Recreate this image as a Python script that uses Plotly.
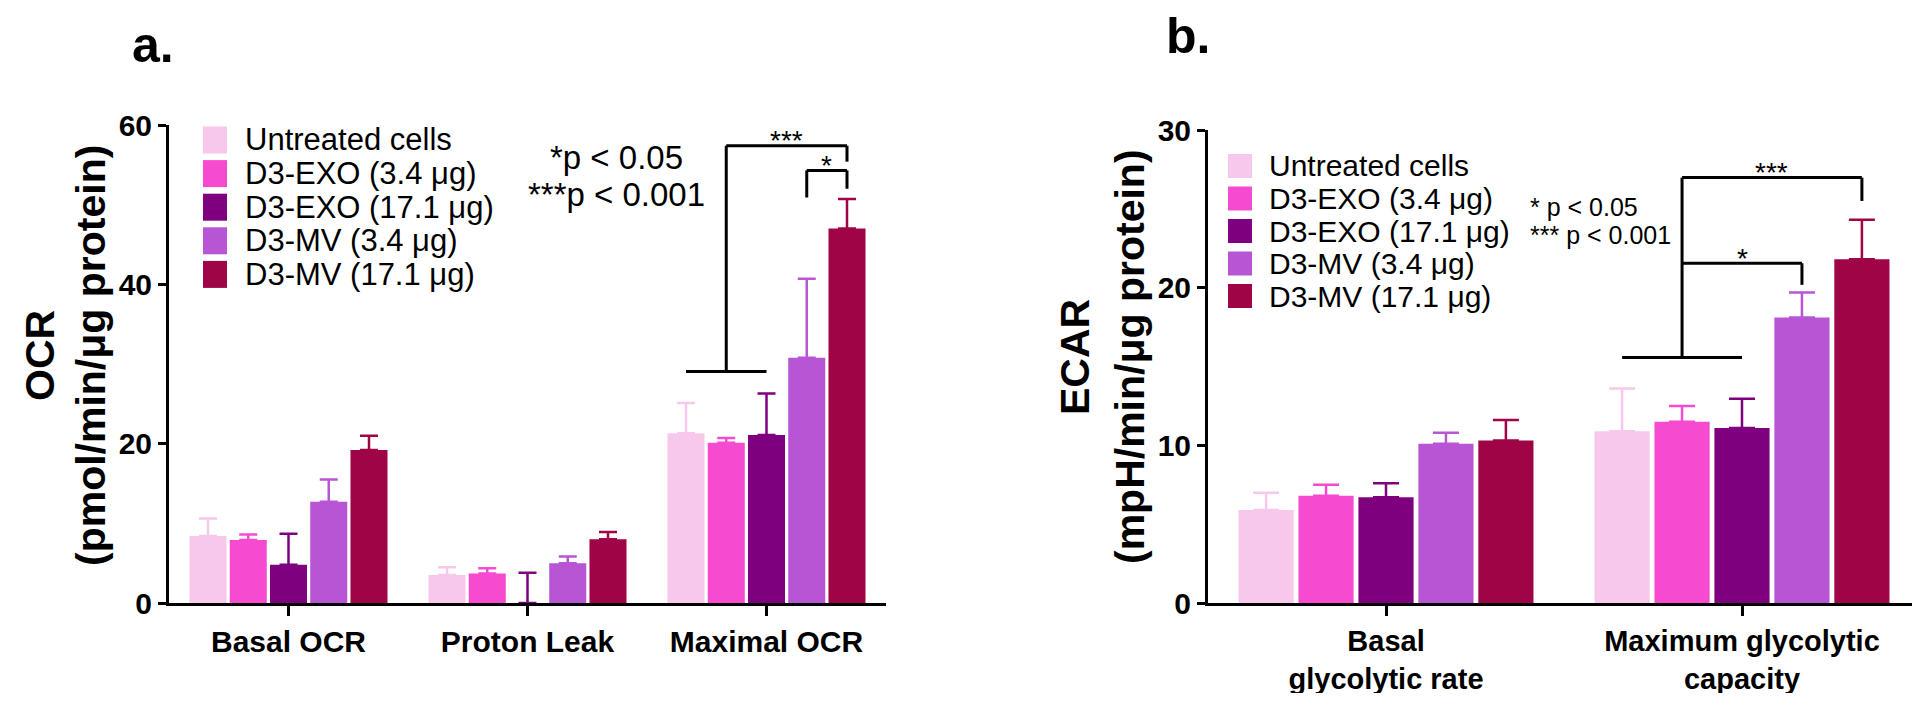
import plotly.graph_objects as go

# ---- data ----
groups = ["Untreated cells", "D3-EXO (3.4 μg)", "D3-EXO (17.1 μg)",
          "D3-MV (3.4 μg)", "D3-MV (17.1 μg)"]
colors = ["#F8C8EC", "#F64BD0", "#7F007F", "#B755D5", "#9F0447"]

ocr_categories = ["Basal OCR", "Proton Leak", "Maximal OCR"]
ocr_untreated = [8.4, 3.5, 21.3]
ocr_exo_34 = [7.9, 3.7, 20.1]
ocr_exo_171 = [4.8, 0.0, 21.1]
ocr_mv_34 = [12.7, 5.0, 30.8]
ocr_mv_171 = [19.2, 8.0, 47.0]
ocr_untreated_sd = [2.2, 1.0, 3.8]
ocr_exo_34_sd = [0.7, 0.65, 0.6]
ocr_exo_171_sd = [3.9, 3.8, 5.2]
ocr_mv_34_sd = [2.8, 0.85, 9.9]
ocr_mv_171_sd = [1.8, 0.9, 3.7]

ecar_categories = ["Basal<br>glycolytic rate", "Maximum glycolytic<br>capacity"]
ecar_untreated = [5.9, 10.9]
ecar_exo_34 = [6.8, 11.5]
ecar_exo_171 = [6.7, 11.1]
ecar_mv_34 = [10.1, 18.1]
ecar_mv_171 = [10.3, 21.8]
ecar_untreated_sd = [1.1, 2.7]
ecar_exo_34_sd = [0.7, 1.0]
ecar_exo_171_sd = [0.9, 1.85]
ecar_mv_34_sd = [0.7, 1.6]
ecar_mv_171_sd = [1.3, 2.5]

ocr_means = [ocr_untreated, ocr_exo_34, ocr_exo_171, ocr_mv_34, ocr_mv_171]
ocr_sds = [ocr_untreated_sd, ocr_exo_34_sd, ocr_exo_171_sd, ocr_mv_34_sd, ocr_mv_171_sd]
ecar_means = [ecar_untreated, ecar_exo_34, ecar_exo_171, ecar_mv_34, ecar_mv_171]
ecar_sds = [ecar_untreated_sd, ecar_exo_34_sd, ecar_exo_171_sd, ecar_mv_34_sd, ecar_mv_171_sd]

# significance brackets: category, bars compared, bracket height, feet, label
ocr_brackets = [
    dict(cat=2, start=1, end=4, level=57.4, feet=(29.05, 55.4), base=(0, 2), label="***"),
    dict(cat=2, start=3, end=4, level=54.3, feet=(50.9, 52.0), base=None, label="*"),
]
ecar_brackets = [
    dict(cat=1, start=1, end=4, level=26.98, feet=(15.57, 25.5), base=(0, 2), label="***"),
    dict(cat=1, start=1, end=3, level=21.55, feet=(21.55, 20.18), base=None, label="*"),
]

# the page body adds an 8px margin on top; keep the figure inside the window
PAGE_W, PAGE_H = 1920, 701
PAD_X, PAD_Y = 0, 8
W, H = PAGE_W, PAGE_H - 2 * PAD_Y
BARGAP = 0.158
FONT = "Liberation Sans, Arial, sans-serif"


def px(x):
    # page pixel -> paper fraction
    return (x - PAD_X) / W


def py(y):
    return 1 - (y - PAD_Y) / H


def bar_center(cat, i, n=5):
    slot = (1 - BARGAP) / n
    return cat - (1 - BARGAP) / 2 + slot * (i + 0.5)


fig = go.Figure()

for means, sds, cats, xa, ya, cap in [
        (ocr_means, ocr_sds, ocr_categories, "x", "y", 9),
        (ecar_means, ecar_sds, ecar_categories, "x2", "y2", 13)]:
    for name, color, m, s in zip(groups, colors, means, sds):
        fig.add_trace(go.Bar(
            x=cats, y=m, name=name, marker_color=color, marker_line_width=0,
            error_y=dict(type="data", array=s, arrayminus=[0] * len(s),
                         symmetric=False, color=color, thickness=2.5, width=cap),
            xaxis=xa, yaxis=ya, showlegend=False))

axis_common = dict(showline=True, linecolor="black", linewidth=3, ticks="outside",
                   tickwidth=3, tickcolor="black", showgrid=False, zeroline=False,
                   automargin=False)
ytick_font = dict(family=FONT, size=30, color="black", weight="bold")

fig.update_layout(
    width=W, height=H, margin=dict(l=0, r=0, t=0, b=0, autoexpand=False),
    paper_bgcolor="white", plot_bgcolor="white",
    barmode="group", bargap=BARGAP, bargroupgap=0.08,
    xaxis=dict(domain=[px(161), px(878)], range=[-0.5, 2.5], type="category",
               anchor="y", ticklen=10, ticklabelstandoff=0,
               tickfont=dict(family=FONT, size=30, color="black", weight="bold"),
               **axis_common),
    yaxis=dict(domain=[py(603), py(125)], range=[0, 60], tickvals=[0, 20, 40, 60],
               anchor="x", ticklen=8, tickfont=ytick_font, **axis_common),
    xaxis2=dict(domain=[px(1200), px(1912)], range=[-0.5, 1.5], type="category",
                anchor="y2", ticklen=10, ticklabelstandoff=0,
                tickfont=dict(family=FONT, size=29, color="black", weight="bold"),
                **axis_common),
    yaxis2=dict(domain=[py(603), py(130)], range=[0, 30], tickvals=[0, 10, 20, 30],
                anchor="x2", ticklen=8, tickfont=ytick_font, **axis_common),
)

# significance brackets
for brackets, xr, yr in [(ocr_brackets, "x", "y"), (ecar_brackets, "x2", "y2")]:
    for b in brackets:
        xs = bar_center(b["cat"], b["start"])
        xe = bar_center(b["cat"], b["end"])
        line = dict(color="black", width=3)
        segs = [(xs, b["feet"][0], xs, b["level"]),
                (xs, b["level"], xe, b["level"]),
                (xe, b["level"], xe, b["feet"][1])]
        if b["base"]:
            segs.append((bar_center(b["cat"], b["base"][0]), b["feet"][0],
                         bar_center(b["cat"], b["base"][1]), b["feet"][0]))
        for x0, y0, x1, y1 in segs:
            fig.add_shape(type="line", xref=xr, yref=yr, x0=x0, y0=y0, x1=x1, y1=y1,
                          line=line)
        fig.add_annotation(xref=xr, yref=yr, x=(xs + xe) / 2, y=b["level"],
                           text=b["label"], showarrow=False, yanchor="middle", yshift=5,
                           font=dict(family=FONT, size=28, color="black"))

# hand-drawn legends (large swatches as in the original)
for x0, y0, step, hh, tx, fs in [(195, 140, 33.6, 13.5, 235, 31),
                                  (1220, 166, 32.5, 12, 1259, 30)]:
    for i, (name, color) in enumerate(zip(groups, colors)):
        yc = y0 + i * step
        fig.add_shape(type="rect", xref="paper", yref="paper",
                      x0=px(x0), x1=px(x0 + 24), y0=py(yc - hh), y1=py(yc + hh),
                      fillcolor=color, line=dict(width=0))
        fig.add_annotation(xref="paper", yref="paper", x=px(tx), y=py(yc), text=name,
                           showarrow=False, xanchor="left", yanchor="middle",
                           font=dict(family=FONT, size=fs, color="black"))

# p-value keys
for txt, x, y, xa, fs in [("*p < 0.05", 608, 157, "center", 33),
                          ("***p < 0.001", 608, 195, "center", 33),
                          ("* p < 0.05", 1520, 207, "left", 25),
                          ("*** p < 0.001", 1520, 235, "left", 25)]:
    fig.add_annotation(xref="paper", yref="paper", x=px(x), y=py(y), text=txt,
                       showarrow=False, xanchor=xa, yanchor="middle",
                       font=dict(family=FONT, size=fs, color="black"))

# axis titles, one annotation per line
for txt, x, y in [("OCR", 32, 356), ("(pmol/min/μg protein)", 83, 356),
                  ("ECAR", 1067, 357), ("(mpH/min/μg protein)", 1122, 357)]:
    fig.add_annotation(xref="paper", yref="paper", x=px(x), y=py(y), text=txt,
                       textangle=-90, showarrow=False, xanchor="center", yanchor="middle",
                       font=dict(family=FONT, size=41, color="black", weight="bold"))

# panel letters
for txt, x, y in [("a.", 145, 45), ("b.", 1180, 36)]:
    fig.add_annotation(xref="paper", yref="paper", x=px(x), y=py(y), text=txt,
                       showarrow=False, xanchor="center", yanchor="middle",
                       font=dict(family=FONT, size=50, color="black", weight="bold"))

fig.write_html("out.html")
